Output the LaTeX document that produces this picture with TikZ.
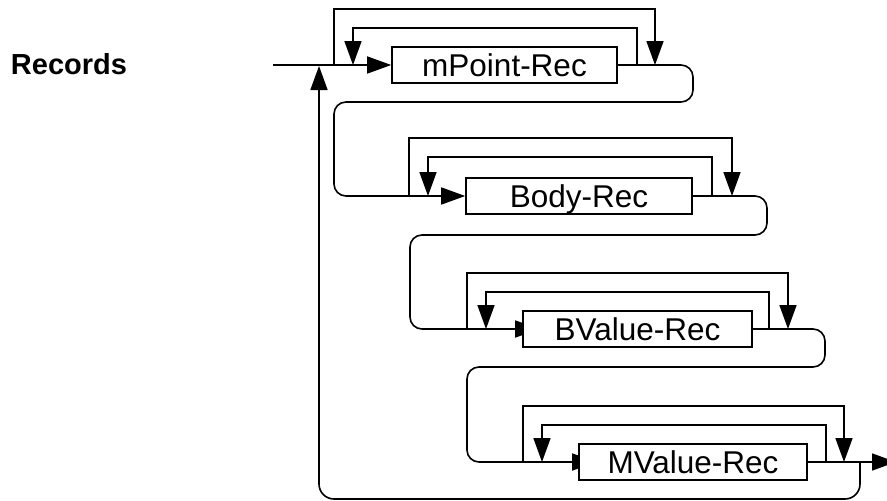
\documentclass[tikz,border=0pt]{standalone}
\usepackage{fontspec}
\setmainfont{Liberation Sans}
\usetikzlibrary{arrows.meta,backgrounds}
\begin{document}
\begin{tikzpicture}[x=1pt,y=-1pt,
  line width=1.6pt,
  tip/.style={-{Triangle[length=24pt,width=17pt]}},
  recbox/.style={draw,fill=white,minimum height=36pt,inner sep=0pt,
    text height=22.6pt,text depth=0pt,font=\fontsize{31.5}{36}\selectfont},
  rail/.style={rounded corners=12pt}]
\useasboundingbox (0,0) rectangle (887,501);

\node[font=\bfseries\fontsize{29}{34}\selectfont, anchor=base] (title) at (69,74) {Records};

\node[recbox, minimum width=225pt] (mp)   at (504.5,65) {mPoint-Rec};
\node[recbox, minimum width=226pt] (body) at (579,196)  {Body-Rec};
\node[recbox, minimum width=229pt] (bv)   at (637.5,329) {BValue-Rec};
\node[recbox, minimum width=228pt] (mv)   at (693,462)  {MValue-Rec};

\coordinate (start) at (273,65);
\coordinate (join) at (319,66);
\coordinate (exit) at (896,462);
\coordinate (back) at (860,462);

\coordinate (a1) at (334,65); \coordinate (b1) at (353,65);
\coordinate (c1) at (637,65); \coordinate (d1) at (655,65);
\coordinate (a2) at (409,196); \coordinate (b2) at (428,196);
\coordinate (c2) at (712,196); \coordinate (d2) at (732,196);
\coordinate (a3) at (467,329); \coordinate (b3) at (486,329);
\coordinate (c3) at (769,329); \coordinate (d3) at (788,329);
\coordinate (a4) at (523,462); \coordinate (b4) at (542,462);
\coordinate (c4) at (826,462); \coordinate (d4) at (844,462);

\begin{pgfonlayer}{background}
\begin{scope}[line width=1.6pt]
% row 1
\draw[tip] (start) -- (mp.west);
\draw[tip] (a1) |- (655,9) -- (d1);
\draw[tip] (c1) |- (353,28) -- (b1);
\draw[tip, rail] (mp.east) -- (693,65) -- (693,102) -- (334,102) -- (334,196) -- (body.west);
% row 2
\draw[tip] (a2) |- (732,138) -- (d2);
\draw[tip] (c2) |- (428,157) -- (b2);
\draw[tip, rail] (body.east) -- (767,196) -- (767,235) -- (410,235) -- (410,329) -- ([xshift=17pt]bv.west);
% row 3
\draw[tip] (a3) |- (788,273) -- (d3);
\draw[tip] (c3) |- (486,292) -- (b3);
\draw[tip, rail] (bv.east) -- (825,329) -- (825,367) -- (467,367) -- (467,462) -- ([xshift=18pt]mv.west);
% row 4
\draw[tip] (a4) |- (844,406) -- (d4);
\draw[tip] (c4) |- (542,425) -- (b4);
\draw[tip] (mv.east) -- (exit);
\draw[tip, rounded corners=15pt] (back) -- (860,499) -- (319,499) -- (join);
\end{scope}
\end{pgfonlayer}
\end{tikzpicture}
\end{document}
